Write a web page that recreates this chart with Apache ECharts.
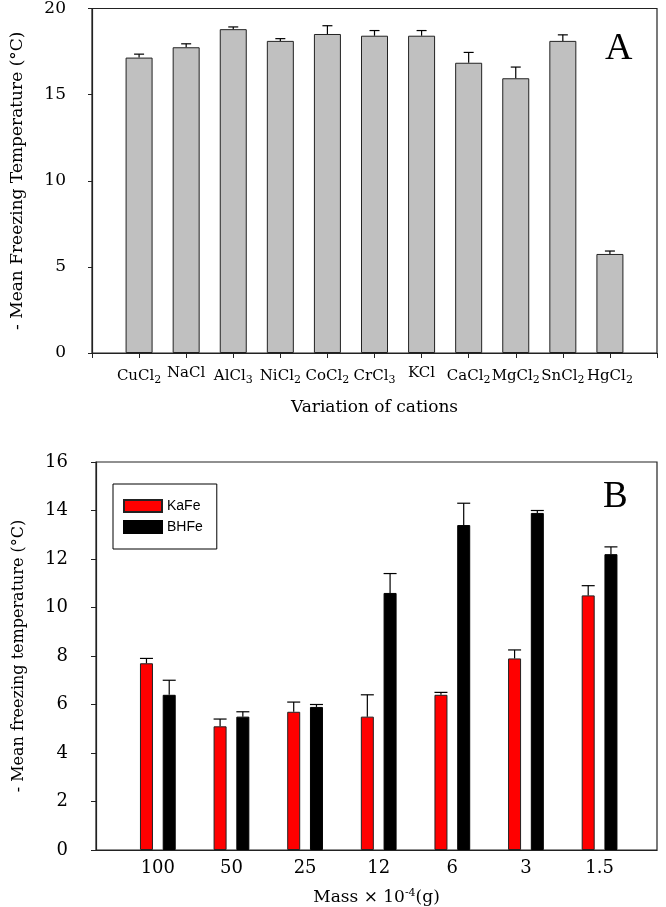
<!DOCTYPE html>
<html><head><meta charset="utf-8">
<script src="https://cdn.jsdelivr.net/npm/echarts@6/dist/echarts.min.js"></script>
<style>html,body{margin:0;padding:0;background:#fff}#c{width:666px;height:907px}</style>
</head><body><div id="c"></div>
<script>
// ---- Panel A data ----
const cationLabels = ['CuCl{s|2}','NaCl','AlCl{s|3}','NiCl{s|2}','CoCl{s|2}','CrCl{s|3}','KCl','CaCl{s|2}','MgCl{s|2}','SnCl{s|2}','HgCl{s|2}'];
const cationMean = [17.15, 17.75, 18.8, 18.12, 18.52, 18.42, 18.42, 16.85, 15.95, 18.12, 5.75];
const cationErr  = [0.2, 0.2, 0.13, 0.13, 0.48, 0.3, 0.3, 0.6, 0.65, 0.35, 0.17];
const yTicksA = [0, 5, 10, 15, 20];
// ---- Panel B data ----
const massLabels = ['100', '50', '25', '12', '6', '3', '1.5'];
const kafeMean = [7.7, 5.1, 5.7, 5.5, 6.4, 7.9, 10.5];
const kafeErr  = [0.2, 0.3, 0.4, 0.9, 0.1, 0.35, 0.4];
const bhfeMean = [6.4, 5.5, 5.9, 10.6, 13.4, 13.9, 12.2];
const bhfeErr  = [0.6, 0.2, 0.1, 0.8, 0.9, 0.1, 0.3];
const yTicksB = [0, 2, 4, 6, 8, 10, 12, 14, 16];

const serif = 'DejaVu Serif';
const times = 'Liberation Serif';
const BW_A = 27, BW_B = 13, GAP_B = 0.75;
const offB = (BW_B * 2 + BW_B * GAP_B) / 2 - BW_B / 2;

function errRender(offset, capW) {
  return function (params, api) {
    const x = api.value(0), y = api.value(1), e = api.value(2);
    const p0 = api.coord([x, y]);
    const p1 = api.coord([x, y + e]);
    const cx = p0[0] + offset;
    return { type: 'group', children: [
      { type: 'line', shape: { x1: cx, y1: p0[1], x2: cx, y2: p1[1] }, style: { stroke: '#000', lineWidth: 1.2 } },
      { type: 'line', shape: { x1: cx - capW / 2, y1: p1[1], x2: cx + capW / 2, y2: p1[1] }, style: { stroke: '#000', lineWidth: 1.2 } }
    ]};
  };
}

const chart = echarts.init(document.getElementById('c'), null, { renderer: 'canvas' });
function axLine() { return { show: true, onZero: false, lineStyle: { color: '#222', width: 1.2 } }; }

chart.setOption({
  animation: false,
  backgroundColor: '#fff',
  title: [
    { text: 'A', left: 605, top: 30, padding: 0, textStyle: { fontFamily: times, fontSize: 38, fontWeight: 'normal', color: '#000' } },
    { text: 'B', left: 603, top: 479, padding: 0, textStyle: { fontFamily: times, fontSize: 37, fontWeight: 'normal', color: '#000' } }
  ],
  legend: {
    data: ['KaFe', 'BHFe'],
    orient: 'vertical', left: 113, top: 484,
    padding: [15, 14, 15, 10], itemGap: 7, itemWidth: 38, itemHeight: 12,
    borderColor: '#000', borderWidth: 1, backgroundColor: '#fff',
    icon: 'rect',
    textStyle: { fontFamily: 'Liberation Sans', fontSize: 14, color: '#000' }
  },
  grid: [
    { left: 92, top: 8, width: 565, height: 345, show: true, borderColor: '#222', borderWidth: 1.2, backgroundColor: 'transparent' },
    { left: 96, top: 462, width: 561, height: 388, show: true, borderColor: '#222', borderWidth: 1.2, backgroundColor: 'transparent' }
  ],
  xAxis: [
    {
      type: 'value', gridIndex: 0, min: 0, max: cationLabels.length + 1, interval: 1,
      splitLine: { show: false }, axisLine: axLine(),
      axisTick: { show: true, inside: false, length: 5, lineStyle: { color: '#222' } },
      axisLabel: {
        margin: 13, color: '#000', fontFamily: serif, fontSize: 15,
        formatter: function (v) { return cationLabels[v - 1] || ''; },
        rich: { s: { fontFamily: serif, fontSize: 11, color: '#000', padding: [9, 0, 0, 0] } }
      },
      name: 'Variation of cations', nameLocation: 'middle', nameGap: 46,
      nameTextStyle: { fontFamily: serif, fontSize: 17, color: '#000' }
    },
    {
      type: 'value', gridIndex: 1, min: -0.84, max: 6.78,
      splitLine: { show: false }, axisLine: axLine(),
      axisTick: { show: false },
      axisLabel: {
        margin: 9, color: '#000', fontFamily: serif, fontSize: 18,
        customValues: massLabels.map(function (_, i) { return i; }),
        formatter: function (v) { return massLabels[Math.round(v)] || ''; }
      },
      name: 'Mass × 10{sup|-4}(g)', nameLocation: 'middle', nameGap: 38,
      nameTextStyle: { fontFamily: serif, fontSize: 17, color: '#000',
        rich: { sup: { fontFamily: serif, fontSize: 11, color: '#000', padding: [0, 0, 8, 0] } } }
    }
  ],
  yAxis: [
    {
      type: 'value', gridIndex: 0, min: yTicksA[0], max: yTicksA[yTicksA.length - 1], interval: yTicksA[1] - yTicksA[0],
      splitLine: { show: false }, axisLine: axLine(),
      axisTick: { show: true, length: 4, lineStyle: { color: '#222' } },
      axisLabel: { margin: 26, color: '#000', fontFamily: serif, fontSize: 17 },
      name: '- Mean Freezing Temperature (°C)', nameLocation: 'middle', nameGap: 66,
      nameTextStyle: { fontFamily: serif, fontSize: 17, color: '#000' }
    },
    {
      type: 'value', gridIndex: 1, min: yTicksB[0], max: yTicksB[yTicksB.length - 1], interval: yTicksB[1] - yTicksB[0],
      splitLine: { show: false }, axisLine: axLine(),
      axisTick: { show: true, length: 5, lineStyle: { color: '#222' } },
      axisLabel: { margin: 28, color: '#000', fontFamily: serif, fontSize: 18 },
      name: '- Mean freezing temperature (°C)', nameLocation: 'middle', nameGap: 69,
      nameTextStyle: { fontFamily: serif, fontSize: 16, color: '#000' }
    }
  ],
  series: [
    {
      name: 'cations', type: 'bar', xAxisIndex: 0, yAxisIndex: 0, barWidth: BW_A,
      itemStyle: { color: '#c0c0c0', borderColor: '#222', borderWidth: 1 },
      data: cationMean.map(function (v, i) { return [i + 1, v]; })
    },
    {
      type: 'custom', xAxisIndex: 0, yAxisIndex: 0, z: 5,
      renderItem: errRender(0, 10),
      encode: { x: 0, y: 1 },
      data: cationMean.map(function (v, i) { return [i + 1, v, cationErr[i]]; })
    },
    {
      name: 'KaFe', type: 'bar', xAxisIndex: 1, yAxisIndex: 1, barWidth: BW_B, barGap: (GAP_B * 100) + '%',
      itemStyle: { color: '#ff0000', borderColor: '#222', borderWidth: 1 },
      data: kafeMean.map(function (v, i) { return [i, v]; })
    },
    {
      name: 'BHFe', type: 'bar', xAxisIndex: 1, yAxisIndex: 1, barWidth: BW_B, barGap: (GAP_B * 100) + '%',
      itemStyle: { color: '#000000', borderColor: '#000', borderWidth: 1 },
      data: bhfeMean.map(function (v, i) { return [i, v]; })
    },
    {
      type: 'custom', xAxisIndex: 1, yAxisIndex: 1, z: 5,
      renderItem: errRender(-offB, BW_B),
      encode: { x: 0, y: 1 },
      data: kafeMean.map(function (v, i) { return [i, v, kafeErr[i]]; })
    },
    {
      type: 'custom', xAxisIndex: 1, yAxisIndex: 1, z: 5,
      renderItem: errRender(offB, BW_B),
      encode: { x: 0, y: 1 },
      data: bhfeMean.map(function (v, i) { return [i, v, bhfeErr[i]]; })
    }
  ]
});
</script>
</body></html>
